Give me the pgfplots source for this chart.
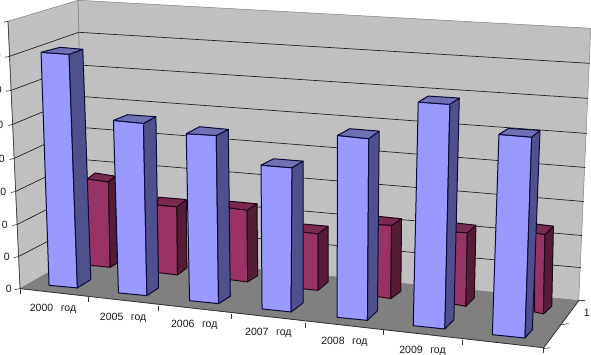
\documentclass[border=0pt]{standalone}
\usepackage{pgfplots}
\pgfplotsset{compat=1.18}
\usepackage{fontspec}
\setmainfont{Liberation Sans}
\definecolor{wallc}{HTML}{C0C0C0}
\definecolor{floorc}{HTML}{808080}
\definecolor{gridc}{HTML}{222222}
\definecolor{bF}{HTML}{9999FF}
\definecolor{bS}{HTML}{50508C}
\definecolor{bT}{HTML}{7070B4}
\definecolor{bE}{HTML}{0A0A3C}
\definecolor{rF}{HTML}{993366}
\definecolor{rS}{HTML}{551C38}
\definecolor{rT}{HTML}{7A2950}
\definecolor{rE}{HTML}{200614}
% #1 colour prefix; #2 FLtop #3 FRtop #4 BRtop #5 BLtop #6 FLbot #7 FRbot #8 BRbot
\newcommand{\solidbar}[8]{%
 \addplot[fill=#1F,draw=#1E,line width=1pt,line join=round] coordinates {#2 #3 #7 #6 #2};
 \addplot[fill=#1S,draw=#1E,line width=1pt,line join=round] coordinates {#3 #4 #8 #7 #3};
 \addplot[fill=#1T,draw=#1E,line width=1pt,line join=round] coordinates {#2 #3 #4 #5 #2};
}
\newcommand{\gline}[1]{\addplot[gridc,line width=0.7pt] coordinates {#1};}
\newcommand{\tickl}[1]{\addplot[black!80,line width=0.6pt] coordinates {#1};}
\newcommand{\catlabel}[2]{\node[font=\fontsize{10.5}{12}\selectfont,text=black!90,inner sep=0pt] at (axis cs:#1) {#2\ \ \,год};}
\newcommand{\vallabel}[1]{\node[font=\fontsize{10.5}{12}\selectfont,text=black!90,inner sep=0pt,anchor=east] at (axis cs:#1) {0};}
\begin{document}
\begin{tikzpicture}
\begin{axis}[
  width=591pt,height=355pt,scale only axis,
  xmin=0,xmax=591,ymin=0,ymax=355,y dir=reverse,
  axis lines=none,clip=true,
  every axis plot/.append style={forget plot},
]
% left wall, back wall, floor
\addplot[fill=wallc,draw=gray,line width=0.5pt] coordinates {(8,22) (78,1) (84,253) (20,289) (8,22)};
\addplot[fill=wallc,draw=gray,line width=0.5pt] coordinates {(78,1) (590,29) (578,301) (84,253) (78,1)};
\addplot[fill=floorc,draw=floorc,line width=0.5pt] coordinates {(20,289) (84,253) (578,301) (543,348) (20,289)};
% gridlines on both walls
\gline{(9.5,57) (78.7,33) (589,64)}
\gline{(11,91) (79.5,65.7) (587.5,99)}
\gline{(12.5,125) (80.2,97) (586,134)}
\gline{(14,159) (81,128) (584.5,168)}
\gline{(15.5,192) (81.7,160) (583,202)}
\gline{(17,225) (82.5,192) (581.5,236)}
\gline{(18.5,257) (83.2,223) (580,268)}
% axis lines and ticks
\addplot[black!75,line width=0.7pt] coordinates {(8,22) (20,289)};
\addplot[black!80,line width=0.8pt] coordinates {(20,289) (543,348) (578,301)};
\tickl{(4,23) (8,22)}
\tickl{(5,58) (9.5,57)}
\tickl{(6,92) (11,91)}
\tickl{(8,126) (12.5,125)}
\tickl{(9.5,160) (14,159)}
\tickl{(11,193) (15.5,192)}
\tickl{(12.5,226) (17,225)}
\tickl{(14,258) (18.5,257)}
\tickl{(15,290) (20,289)}
\tickl{(20,289) (20,294)}
\tickl{(87.7,297) (87.7,302)}
\tickl{(158.3,306) (158.3,311)}
\tickl{(230.7,314) (230.7,319)}
\tickl{(305,323) (305,328)}
\tickl{(383.3,330) (383.3,335)}
\tickl{(462,340) (462,345)}
\tickl{(543,348) (543,353)}
\tickl{(578,301) (584,301)}
\tickl{(559,325) (568,324)}
\tickl{(543,349) (549,348)}
% rear series
\solidbar{r}{(87,179.5)}{(108.3,182.3)}{(115,176.7)}{(95,173.5)}{(88,265.5)}{(110,267.7)}{(117.3,263.3)}
\solidbar{r}{(157,205.5)}{(176.7,207.3)}{(186,200)}{(158.3,197.7)}{(158,273)}{(177.3,275.3)}{(186.7,268.3)}
\solidbar{r}{(229,208.3)}{(246.7,210.7)}{(256.7,204.3)}{(229,201.7)}{(229,280)}{(247.3,282.3)}{(257.3,276)}
\solidbar{r}{(301,232.3)}{(317.7,234.3)}{(327.7,226.7)}{(301,224.3)}{(301,289)}{(317.7,290.7)}{(327.7,282.3)}
\solidbar{r}{(376,225)}{(391,225.7)}{(401,219.3)}{(377,216.7)}{(376,296.7)}{(390.3,299)}{(400.3,291.7)}
\solidbar{r}{(453,232.3)}{(466.7,233.3)}{(475.3,225.7)}{(454,223.3)}{(453,304.3)}{(465.3,306.7)}{(473.7,298.3)}
\solidbar{r}{(534,233.3)}{(544.3,235)}{(552.7,226.7)}{(534,224.3)}{(534,312.3)}{(542.7,314.3)}{(551,306.7)}
% front series
\solidbar{b}{(41,53)}{(69,55)}{(82.7,50)}{(60,48)}{(49,285.7)}{(77.3,288.3)}{(90.7,280)}
\solidbar{b}{(113.3,121)}{(143.3,124)}{(155.7,117.3)}{(127.3,115.3)}{(118.3,293.3)}{(146.7,296)}{(158.3,288.3)}
\solidbar{b}{(186,134.3)}{(216,136)}{(228,130)}{(199.3,127.3)}{(189.3,301)}{(218.3,304)}{(230,296.7)}
\solidbar{b}{(260.7,165.7)}{(291.7,168.3)}{(302.7,161.7)}{(273.3,159.3)}{(261.7,309.3)}{(290.7,312.3)}{(302.7,303.3)}
\solidbar{b}{(337,136)}{(368.3,139.3)}{(378.7,131.7)}{(349.3,129.3)}{(336.7,317.7)}{(367,320.7)}{(377,311)}
\solidbar{b}{(417.7,102.7)}{(449.3,105)}{(458.7,98.7)}{(427.7,96.7)}{(412.7,326)}{(444.3,329.3)}{(453.3,320)}
\solidbar{b}{(498.3,135)}{(531,137.7)}{(539.3,131)}{(507.7,129)}{(491.7,335)}{(524.3,338.3)}{(531.7,330)}
% labels
\catlabel{53,309}{2000}
\catlabel{123,318}{2005}
\catlabel{194,325.5}{2006}
\catlabel{268,333.5}{2007}
\catlabel{344,342}{2008}
\catlabel{422,351}{2009}
\node[font=\fontsize{10.5}{12}\selectfont,text=black!90,inner sep=0pt] at (axis cs:586,313) {1};
\vallabel{1,57}
\vallabel{2,91}
\vallabel{3.5,125}
\vallabel{5,159}
\vallabel{6.5,192}
\vallabel{8,225}
\vallabel{10,257}
\vallabel{12,289}
\end{axis}
\end{tikzpicture}
\end{document}
